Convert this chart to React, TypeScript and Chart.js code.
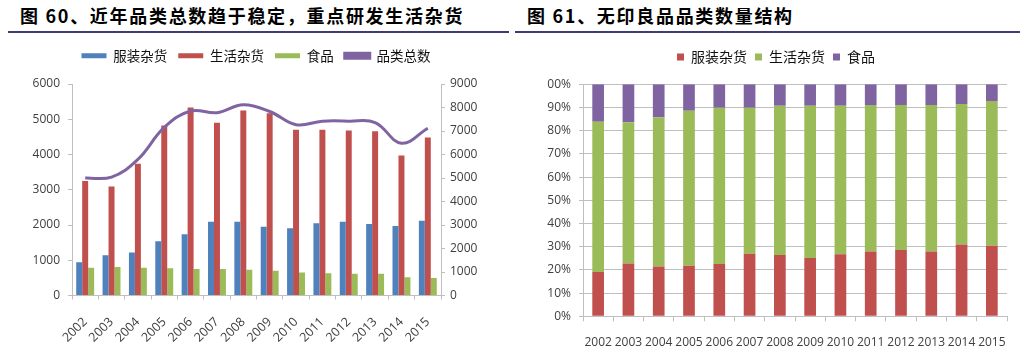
import React, { useEffect, useRef } from "react";
import { Chart, registerables } from "chart.js";

Chart.register(...registerables);

const years = ["2002", "2003", "2004", "2005", "2006", "2007", "2008", "2009", "2010", "2011", "2012", "2013", "2014", "2015"];

// Figure 60 — counts
const apparel = [940, 1140, 1220, 1540, 1740, 2090, 2090, 1950, 1910, 2050, 2090, 2030, 1970, 2120];
const household = [3250, 3090, 3740, 4820, 5330, 4900, 5250, 5170, 4700, 4700, 4680, 4660, 3970, 4480];
const food = [790, 810, 790, 770, 750, 750, 730, 700, 650, 630, 620, 620, 520, 500];
const totals = [5000, 5040, 5790, 7150, 7850, 7780, 8120, 7830, 7270, 7420, 7420, 7360, 6480, 7120];

// Figure 61 — shares (%)
const shareApparel = [19.1, 22.8, 21.5, 21.8, 22.5, 27.0, 26.4, 25.1, 26.7, 27.9, 28.6, 27.9, 30.9, 30.4];
const shareHousehold = [64.8, 60.8, 64.3, 66.8, 67.4, 62.9, 64.4, 65.7, 64.1, 63.2, 62.5, 63.2, 60.6, 62.4];
const shareFood = [16.1, 16.4, 14.2, 11.4, 10.1, 10.1, 9.2, 9.2, 9.2, 8.9, 8.9, 8.9, 8.5, 7.2];

const BLUE = "#4F81BD";
const RED = "#C0504D";
const GREEN = "#9BBB59";
const PURPLE = "#8064A2";
const AXIS = "#BFBFBF";
const TEXT = "#404040";
const NUM_FONT = '"Open Sans", "Liberation Sans", sans-serif';
const CJK_FONT = '"Noto Sans CJK SC", sans-serif';

const legendSpace = (extra: number) => ({
  id: "legendSpace",
  beforeInit(chart: any) {
    const orig = chart.legend.fit;
    chart.legend.fit = function () {
      orig.call(this);
      this.height += extra;
    };
  },
});

const plain = (v: any) => String(v);

function LeftChart() {
  const ref = useRef<HTMLCanvasElement | null>(null);
  useEffect(() => {
    const chart = new Chart(ref.current!, {
      type: "bar",
      data: {
        labels: years,
        datasets: [
          { type: "bar", label: "服装杂货", data: apparel, backgroundColor: BLUE, yAxisID: "y", order: 1 },
          { type: "bar", label: "生活杂货", data: household, backgroundColor: RED, yAxisID: "y", order: 1 },
          { type: "bar", label: "食品", data: food, backgroundColor: GREEN, yAxisID: "y", order: 1 },
          {
            type: "line",
            label: "品类总数",
            data: totals,
            borderColor: PURPLE,
            backgroundColor: PURPLE,
            borderWidth: 3,
            pointRadius: 0,
            tension: 0.4,
            yAxisID: "y1",
            order: 0,
          },
        ],
      } as any,
      options: {
        responsive: false,
        animation: false,
        devicePixelRatio: 1,
        layout: { padding: { top: 4, left: 0, right: 0, bottom: 0 } },
        datasets: { bar: { categoryPercentage: 0.68, barPercentage: 1 } } as any,
        plugins: {
          tooltip: { enabled: false },
          legend: {
            position: "top",
            labels: {
              boxWidth: 25,
              boxHeight: 5,
              padding: 11,
              color: "#111",
              font: { family: CJK_FONT, size: 13.5 },
              sort: (a: any, b: any) => a.datasetIndex - b.datasetIndex,
            },
          },
        },
        scales: {
          x: {
            grid: { display: true, drawOnChartArea: false, drawTicks: true, tickLength: 4, color: AXIS, offset: true },
            border: { display: true, color: AXIS },
            ticks: {
              autoSkip: false,
              minRotation: 45,
              maxRotation: 45,
              padding: 15,
              color: TEXT,
              font: { family: NUM_FONT, size: 12.5 },
            },
            afterFit: (s: any) => {
              s.height = 60.5;
            },
          },
          y: {
            position: "left",
            min: 0,
            max: 6000,
            ticks: { stepSize: 1000, padding: 8, color: TEXT, font: { family: NUM_FONT, size: 12 }, callback: plain },
            grid: { display: true, drawOnChartArea: false, drawTicks: true, tickLength: 4, color: AXIS },
            border: { display: true, color: AXIS },
            afterFit: (s: any) => {
              s.width = 72;
            },
          },
          y1: {
            position: "right",
            min: 0,
            max: 9000,
            ticks: { stepSize: 1000, padding: 5, color: TEXT, font: { family: NUM_FONT, size: 12 }, callback: plain },
            grid: { display: true, drawOnChartArea: false, drawTicks: true, tickLength: 4, color: AXIS },
            border: { display: true, color: AXIS },
            afterFit: (s: any) => {
              s.width = 71;
            },
          },
        },
      } as any,
      plugins: [legendSpace(11.5)],
    });
    return () => chart.destroy();
  }, []);
  return <canvas ref={ref} width={512} height={322} style={{ display: "block" }} />;
}

function RightChart() {
  const ref = useRef<HTMLCanvasElement | null>(null);
  useEffect(() => {
    const chart = new Chart(ref.current!, {
      type: "bar",
      data: {
        labels: years,
        datasets: [
          { label: "服装杂货", data: shareApparel, backgroundColor: RED },
          { label: "生活杂货", data: shareHousehold, backgroundColor: GREEN },
          { label: "食品", data: shareFood, backgroundColor: PURPLE },
        ],
      },
      options: {
        responsive: false,
        animation: false,
        devicePixelRatio: 1,
        layout: { padding: { top: 8, left: 33, right: 17, bottom: 0 } },
        datasets: { bar: { categoryPercentage: 1, barPercentage: 0.386 } } as any,
        plugins: {
          tooltip: { enabled: false },
          legend: {
            position: "top",
            labels: {
              boxWidth: 7,
              boxHeight: 7,
              padding: 8,
              color: "#111",
              font: { family: CJK_FONT, size: 14 },
            },
          },
        },
        scales: {
          x: {
            stacked: true,
            grid: { display: true, drawOnChartArea: false, drawTicks: true, tickLength: 5, color: AXIS, offset: true },
            border: { display: true, color: AXIS },
            ticks: {
              autoSkip: false,
              minRotation: 0,
              maxRotation: 0,
              padding: 14,
              color: TEXT,
              font: { family: NUM_FONT, size: 12 },
            },
            afterFit: (s: any) => {
              s.height = 39.7;
            },
          },
          y: {
            stacked: true,
            min: 0,
            max: 100,
            ticks: {
              stepSize: 10,
              padding: 8,
              color: TEXT,
              font: { family: NUM_FONT, size: 12 },
              callback: (v: any) => v + "%",
            },
            grid: { display: true, drawOnChartArea: true, drawTicks: true, tickLength: 4, color: AXIS },
            border: { display: true, color: AXIS },
            afterFit: (s: any) => {
              s.width = 38;
            },
          },
        },
      } as any,
      plugins: [legendSpace(10.3)],
    });
    return () => chart.destroy();
  }, []);
  return <canvas ref={ref} width={512} height={322} style={{ display: "block" }} />;
}

const titleStyle: React.CSSProperties = {
  position: "absolute",
  top: 6,
  fontFamily: CJK_FONT,
  fontWeight: 700,
  fontSize: 18,
  lineHeight: "18px",
  letterSpacing: "1.7px",
  color: "#000",
  whiteSpace: "nowrap",
};

export default function App() {
  return (
    <div style={{ position: "absolute", left: 0, top: 0, width: 1024, height: 356, background: "#fff", overflow: "hidden" }}>
      <div style={{ ...titleStyle, left: 20 }}>图 60、近年品类总数趋于稳定，重点研发生活杂货</div>
      <div style={{ ...titleStyle, left: 527 }}>图 61、无印良品品类数量结构</div>
      <div style={{ position: "absolute", left: 8, top: 31, width: 501, height: 2, background: "#3C3C78" }} />
      <div style={{ position: "absolute", left: 515, top: 31, width: 505, height: 2, background: "#3C3C78" }} />
      <div style={{ position: "absolute", left: 0, top: 34 }}>
        <LeftChart />
      </div>
      <div style={{ position: "absolute", left: 512, top: 34 }}>
        <RightChart />
      </div>
    </div>
  );
}
